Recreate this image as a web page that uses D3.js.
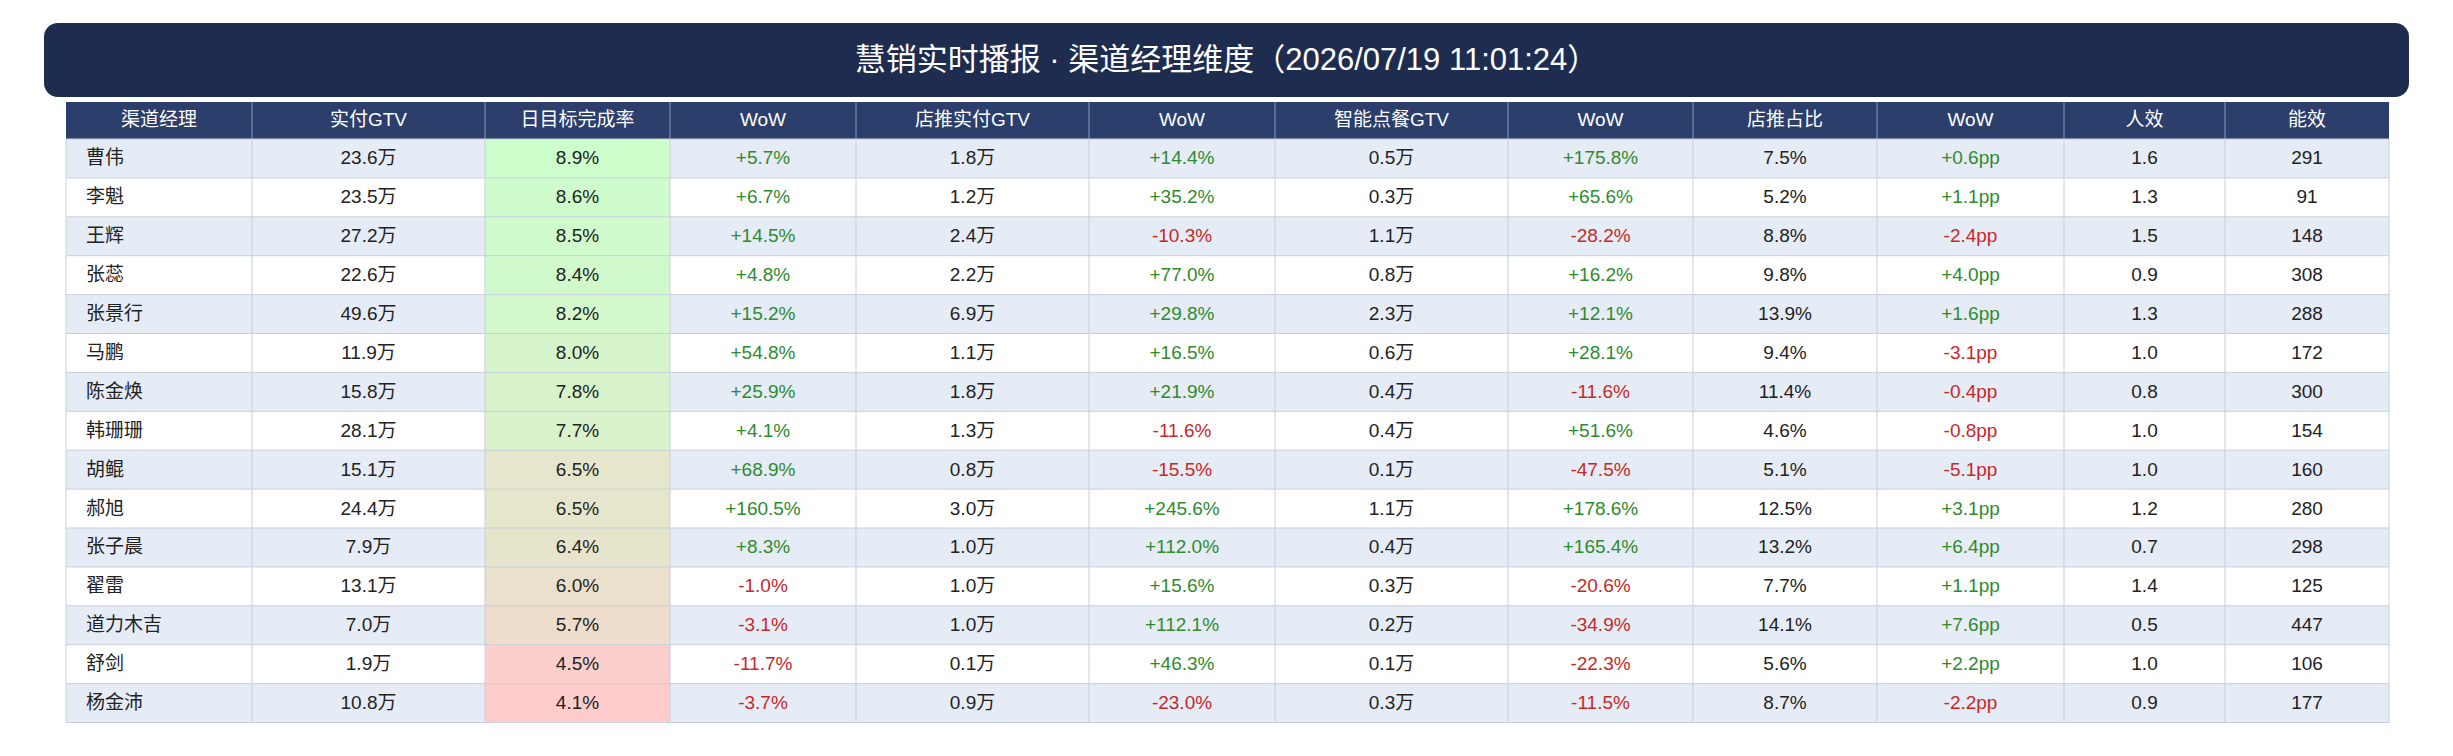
<!DOCTYPE html>
<html><head><meta charset="utf-8">
<script src="https://cdn.jsdelivr.net/npm/d3@7"></script>
<style>body{margin:0;background:#fff}svg{display:block}</style>
</head><body><div id="chart"></div>
<script>
const title = '慧销实时播报 · 渠道经理维度（2026/07/19 11:01:24）';
const headers = ['渠道经理','实付GTV','日目标完成率','WoW','店推实付GTV','WoW','智能点餐GTV','WoW','店推占比','WoW','人效','能效'];
const names = ['曹伟','李魁','王辉','张蕊','张景行','马鹏','陈金焕','韩珊珊','胡鲲','郝旭','张子晨','翟雷','道力木吉','舒剑','杨金沛'];
const gtv = [23.6,23.5,27.2,22.6,49.6,11.9,15.8,28.1,15.1,24.4,7.9,13.1,7.0,1.9,10.8];
const rate = [8.9,8.6,8.5,8.4,8.2,8.0,7.8,7.7,6.5,6.5,6.4,6.0,5.7,4.5,4.1];
const gtvWow = [5.7,6.7,14.5,4.8,15.2,54.8,25.9,4.1,68.9,160.5,8.3,-1.0,-3.1,-11.7,-3.7];
const shopGtv = [1.8,1.2,2.4,2.2,6.9,1.1,1.8,1.3,0.8,3.0,1.0,1.0,1.0,0.1,0.9];
const shopWow = [14.4,35.2,-10.3,77.0,29.8,16.5,21.9,-11.6,-15.5,245.6,112.0,15.6,112.1,46.3,-23.0];
const smartGtv = [0.5,0.3,1.1,0.8,2.3,0.6,0.4,0.4,0.1,1.1,0.4,0.3,0.2,0.1,0.3];
const smartWow = [175.8,65.6,-28.2,16.2,12.1,28.1,-11.6,51.6,-47.5,178.6,165.4,-20.6,-34.9,-22.3,-11.5];
const shopShare = [7.5,5.2,8.8,9.8,13.9,9.4,11.4,4.6,5.1,12.5,13.2,7.7,14.1,5.6,8.7];
const shareWow = [0.6,1.1,-2.4,4.0,1.6,-3.1,-0.4,-0.8,-5.1,3.1,6.4,1.1,7.6,2.2,-2.2];
const perPerson = [1.6,1.3,1.5,0.9,1.3,1.0,0.8,1.0,1.0,1.2,0.7,1.4,0.5,1.0,0.9];
const energy = [291,91,148,308,288,172,300,154,160,280,298,125,447,106,177];

const colW = [186,233,185,186,233,186,233,185,184,187,161,164];
const W = 2453, H = 756, tableX = 66, headY = 102, headH = 37, rowH = 38.9;
const font = '"Liberation Sans", Arial, "Noto Sans CJK SC", sans-serif';
const green = '#2e8b2e', red = '#c62828';

const wan = v => v.toFixed(1) + '万';
const pct = v => v.toFixed(1) + '%';
const sPct = v => (v >= 0 ? '+' : '') + v.toFixed(1) + '%';
const sPp = v => (v >= 0 ? '+' : '') + v.toFixed(1) + 'pp';
const rateColor = d3.scaleLinear().domain([d3.min(rate), d3.max(rate)])
  .range(['#ffcccc', '#ccffcc']).interpolate(d3.interpolateRgb);

const rows = names.map((n, i) => [
  {t: n}, {t: wan(gtv[i])}, {t: pct(rate[i]), bg: rateColor(rate[i])},
  {t: sPct(gtvWow[i]), c: gtvWow[i] >= 0 ? green : red},
  {t: wan(shopGtv[i])},
  {t: sPct(shopWow[i]), c: shopWow[i] >= 0 ? green : red},
  {t: wan(smartGtv[i])},
  {t: sPct(smartWow[i]), c: smartWow[i] >= 0 ? green : red},
  {t: pct(shopShare[i])},
  {t: sPp(shareWow[i]), c: shareWow[i] >= 0 ? green : red},
  {t: perPerson[i].toFixed(1)}, {t: String(energy[i])}
]);

const colX = [tableX];
colW.forEach((w, i) => colX.push(colX[i] + w));
const tableW = colX[colX.length - 1] - tableX;
const y = d3.scaleBand().domain(d3.range(rows.length)).range([headY + headH, headY + headH + rowH * rows.length]);

const svg = d3.select('#chart').append('svg').attr('width', W).attr('height', H)
  .style('font-family', font);

// 标题栏
svg.append('rect').attr('x', 44).attr('y', 23).attr('width', 2365).attr('height', 74)
  .attr('rx', 14).attr('fill', '#1e2d4f');
svg.append('text').attr('x', 44 + 2365 / 2).attr('y', 62).attr('text-anchor', 'middle')
  .attr('dominant-baseline', 'middle').attr('fill', '#fff').attr('font-size', 31).text(title);

// 表头
const head = svg.append('g');
head.append('rect').attr('x', tableX).attr('y', headY).attr('width', tableW).attr('height', headH).attr('fill', '#2c3e6b');
head.selectAll('text').data(headers).join('text')
  .attr('x', (d, i) => colX[i] + colW[i] / 2).attr('y', headY + headH / 2)
  .attr('text-anchor', 'middle').attr('dominant-baseline', 'middle')
  .attr('fill', '#fff').attr('font-size', 19).text(d => d);
head.selectAll('line').data(colX.slice(1, -1)).join('line')
  .attr('x1', d => d).attr('x2', d => d).attr('y1', headY).attr('y2', headY + headH)
  .attr('stroke', '#8a97b8').attr('stroke-width', 1);

// 数据行
const rg = svg.append('g').selectAll('g').data(rows).join('g')
  .attr('transform', (d, i) => `translate(0,${y(i)})`);
rg.append('rect').attr('x', tableX).attr('width', tableW).attr('height', y.bandwidth())
  .attr('fill', (d, i) => i % 2 === 0 ? '#e6ecf5' : '#ffffff');
rg.selectAll('rect.cell').data(d => d.map((c, j) => ({...c, j})).filter(c => c.bg)).join('rect')
  .attr('class', 'cell').attr('x', c => colX[c.j]).attr('width', c => colW[c.j])
  .attr('height', y.bandwidth()).attr('fill', c => c.bg);
rg.selectAll('text').data(d => d.map((c, j) => ({...c, j}))).join('text')
  .attr('x', c => c.j === 0 ? colX[0] + 20 : colX[c.j] + colW[c.j] / 2)
  .attr('y', y.bandwidth() / 2 + 1)
  .attr('text-anchor', c => c.j === 0 ? 'start' : 'middle')
  .attr('dominant-baseline', 'middle').attr('font-size', 19)
  .attr('fill', c => c.c || '#222').text(c => c.t);

// 网格线
const grid = svg.append('g').attr('stroke', '#c8cfdb').attr('stroke-width', 1);
d3.range(rows.length + 1).forEach(i => {
  const yy = headY + headH + rowH * i;
  grid.append('line').attr('x1', tableX).attr('x2', tableX + tableW).attr('y1', yy).attr('y2', yy);
});
colX.forEach(x => grid.append('line').attr('x1', x).attr('x2', x)
  .attr('y1', headY + headH).attr('y2', headY + headH + rowH * rows.length));
</script></body></html>
